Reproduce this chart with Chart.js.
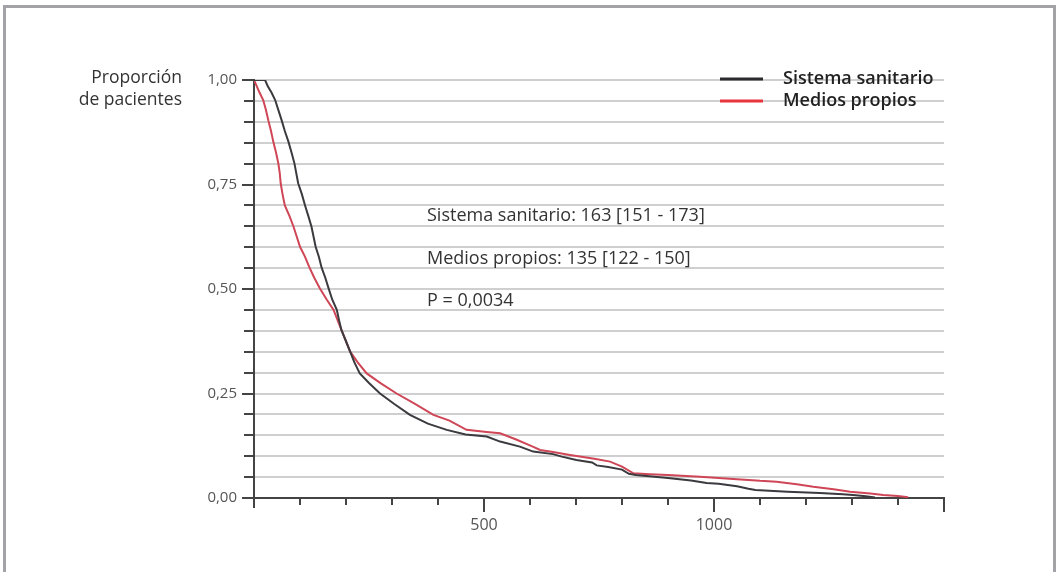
<!DOCTYPE html>
<html lang="es">
<head>
<meta charset="utf-8">
<title>Proporción de pacientes</title>
<script src="https://cdn.jsdelivr.net/npm/chart.js@4/dist/chart.umd.min.js"></script>
<style>
  html, body { margin: 0; padding: 0; background: #fff; }
  #wrap { position: relative; width: 1056px; height: 572px; overflow: hidden; }
  #frame { position: absolute; left: 3px; top: 5px; width: 1047px; height: 600px;
           border: 3px solid #a3a3a7; border-bottom: none; }
  canvas { position: absolute; left: 0; top: 0; }
</style>
</head>
<body>
<div id="wrap">
  <div id="frame"></div>
  <canvas id="km" width="1056" height="572"></canvas>
</div>
<script>
// Tiempo (x) y proporción de pacientes (y) de cada curva
const tSanitario = [0, 24, 30, 38, 46, 53, 60, 67, 75, 82, 88, 96, 104, 111, 118, 125, 134, 141, 147, 155, 162, 170, 180, 185, 190, 200, 209, 218, 230, 250, 274, 305, 339, 378, 419, 460, 506, 535, 578, 607, 650, 669, 701, 735, 745, 770, 800, 815, 830, 900, 950, 984, 1010, 1050, 1075, 1090, 1160, 1230, 1280, 1302, 1330, 1350];
const sSanitario = [1.00, 1.00, 0.985, 0.97, 0.952, 0.928, 0.904, 0.878, 0.852, 0.825, 0.80, 0.753, 0.727, 0.70, 0.675, 0.649, 0.601, 0.577, 0.551, 0.527, 0.502, 0.475, 0.45, 0.425, 0.402, 0.375, 0.35, 0.325, 0.298, 0.275, 0.25, 0.225, 0.199, 0.178, 0.163, 0.152, 0.147, 0.135, 0.123, 0.111, 0.105, 0.099, 0.091, 0.085, 0.078, 0.074, 0.068, 0.058, 0.055, 0.048, 0.042, 0.036, 0.034, 0.028, 0.022, 0.019, 0.015, 0.012, 0.009, 0.007, 0.004, 0.001];

const tPropios = [0, 4, 12, 20, 26, 31, 37, 42, 48, 53, 56, 58, 62, 67, 77, 86, 93, 100, 111, 120, 131, 143, 158, 173, 190, 200, 209, 225, 245, 275, 310, 350, 390, 425, 462, 506, 535, 570, 606, 622, 650, 687, 740, 774, 800, 825, 860, 900, 970, 1050, 1100, 1136, 1180, 1216, 1260, 1296, 1340, 1368, 1400, 1422];
const sPropios = [1.00, 0.99, 0.97, 0.952, 0.928, 0.904, 0.878, 0.852, 0.826, 0.80, 0.777, 0.753, 0.727, 0.70, 0.675, 0.649, 0.625, 0.601, 0.577, 0.553, 0.527, 0.502, 0.475, 0.45, 0.402, 0.375, 0.35, 0.325, 0.298, 0.275, 0.25, 0.225, 0.199, 0.185, 0.163, 0.158, 0.155, 0.14, 0.123, 0.115, 0.110, 0.103, 0.094, 0.087, 0.075, 0.059, 0.057, 0.055, 0.051, 0.045, 0.041, 0.039, 0.033, 0.027, 0.021, 0.015, 0.011, 0.007, 0.005, 0.002];

// Etiquetas de los ejes
const xLabelTicks = [500, 1000];
const xLongTicks = [0, 500, 1000, 1500];
const yLabelTicks = [0, 0.25, 0.5, 0.75, 1];

// Textos
const seriesNames = ['Sistema sanitario', 'Medios propios'];
const annotationLines = ['Sistema sanitario: 163 [151 - 173]', 'Medios propios: 135 [122 - 150]', 'P = 0,0034'];
const yTitleLines = ['Proporción', 'de pacientes'];

const FONT = '"Open Sans", "Noto Sans", sans-serif';
const toPoints = (t, s) => t.map((x, i) => ({ x: x, y: s[i] }));
const near = (v, list) => list.some(l => Math.abs(v - l) < 1e-6);

const decorations = {
  id: 'decorations',
  afterDraw(chart) {
    const ctx = chart.ctx;
    const xs = chart.scales.x, ys = chart.scales.y;
    const bottom = ys.getPixelForValue(0);
    ctx.save();

    // Marcas largas del eje x
    ctx.strokeStyle = '#444';
    ctx.lineWidth = 2;
    xLongTicks.forEach(v => {
      const px = Math.round(xs.getPixelForValue(v));
      ctx.beginPath();
      ctx.moveTo(px, bottom);
      ctx.lineTo(px, bottom + (v === 0 ? 10 : 14));
      ctx.stroke();
    });

    // Marcas mayores del eje y, algo más largas
    yLabelTicks.forEach(v => {
      const py = Math.round(ys.getPixelForValue(v));
      ctx.beginPath();
      ctx.moveTo(ys.right - 12, py);
      ctx.lineTo(ys.right - 8, py);
      ctx.stroke();
    });

    // Título del eje y
    ctx.fillStyle = '#333';
    ctx.font = '17.5px ' + FONT;
    ctx.textAlign = 'right';
    ctx.textBaseline = 'middle';
    ctx.fillText(yTitleLines[0], 182, 78);
    ctx.fillText(yTitleLines[1], 182, 100);

    // Leyenda
    const legendColors = ['#2b2b2e', '#e8353d'];
    ctx.textAlign = 'left';
    ctx.font = '600 18px ' + FONT;
    seriesNames.forEach((name, i) => {
      const y = 79 + i * 22;
      ctx.strokeStyle = legendColors[i];
      ctx.lineWidth = 3;
      ctx.beginPath();
      ctx.moveTo(720, y);
      ctx.lineTo(763, y);
      ctx.stroke();
      ctx.fillStyle = '#222';
      ctx.fillText(name, 783, y);
    });

    // Medianas y valor p
    ctx.font = '18px ' + FONT;
    ctx.fillStyle = '#333';
    annotationLines.forEach((line, i) => {
      ctx.fillText(line, 427, 216 + i * 42.5);
    });
    ctx.restore();
  }
};

new Chart(document.getElementById('km'), {
  type: 'line',
  data: {
    datasets: [
      {
        label: seriesNames[0],
        data: toPoints(tSanitario, sSanitario),
        borderColor: '#3a3a3f',
        borderWidth: 2,
        pointRadius: 0,
        tension: 0,
        fill: false
      },
      {
        label: seriesNames[1],
        data: toPoints(tPropios, sPropios),
        borderColor: '#cf4656',
        borderWidth: 2,
        pointRadius: 0,
        tension: 0,
        fill: false
      }
    ]
  },
  options: {
    responsive: false,
    animation: false,
    devicePixelRatio: 1,
    layout: { padding: { left: 0, top: 80, right: 112, bottom: 34 } },
    plugins: { legend: { display: false }, tooltip: { enabled: false } },
    scales: {
      x: {
        type: 'linear',
        min: 0,
        max: 1500,
        afterFit: s => { s.height = 40; },
        ticks: {
          stepSize: 100,
          autoSkip: false,
          maxRotation: 0,
          padding: 11,
          color: '#555',
          font: { family: FONT, size: 16 },
          callback: v => near(v, xLabelTicks) ? String(v) : ''
        },
        grid: {
          drawOnChartArea: false,
          drawTicks: true,
          tickLength: 7,
          tickColor: '#444',
          lineWidth: 2
        },
        border: { color: '#444', width: 2 }
      },
      y: {
        type: 'linear',
        min: 0,
        max: 1,
        afterFit: s => { s.width = 254; },
        ticks: {
          stepSize: 0.05,
          autoSkip: false,
          padding: 7,
          color: '#555',
          font: { family: FONT, size: 15 },
          callback: v => near(v, yLabelTicks) ? v.toFixed(2).replace('.', ',') : ''
        },
        grid: {
          color: ctx => (ctx.tick && ctx.tick.value === 0) ? 'rgba(0,0,0,0)' : '#cfcfcf',
          lineWidth: 2,
          tickLength: 10,
          tickColor: '#444'
        },
        border: { color: '#444', width: 2 }
      }
    }
  },
  plugins: [decorations]
});
</script>
</body>
</html>
